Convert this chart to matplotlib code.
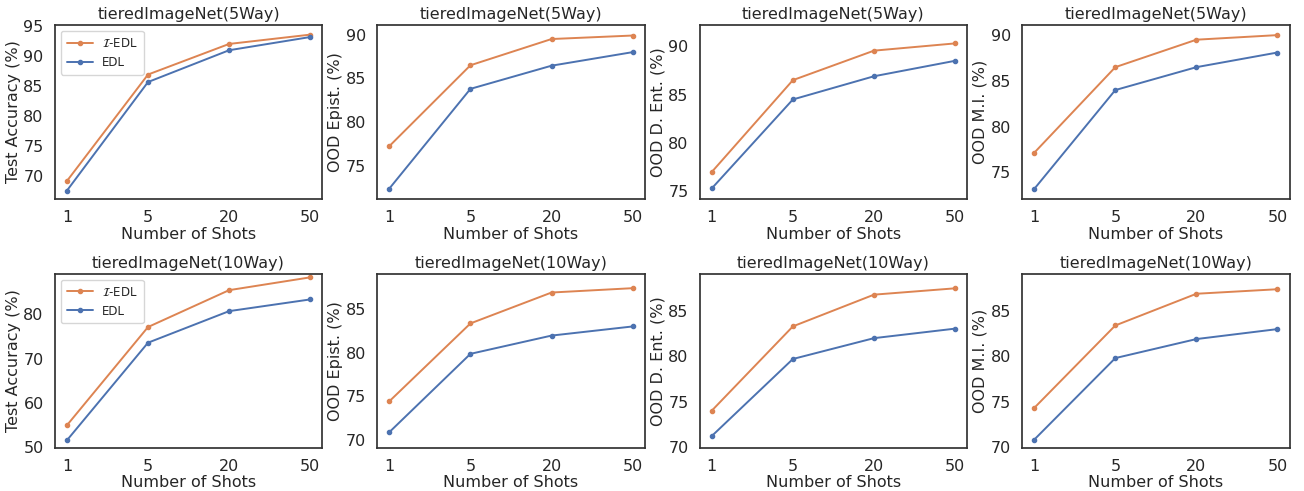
import numpy as np
import matplotlib
matplotlib.use("Agg")
import matplotlib.pyplot as plt
import seaborn as sns

sns.set_theme(style="white")
plt.rcParams['font.family'] = ['DejaVu Sans']

#shots on the x axis (drawn as evenly spaced categories)
shots = ["1", "5", "20", "50"]
metrics = ["Test Accuracy (%)", "OOD Epist. (%)", "OOD D. Ent. (%)", "OOD M.I. (%)"]
titles = ["tieredImageNet(5Way)", "tieredImageNet(10Way)"]

#5-way results, one list per metric
iedl_5way = [
    [69.2, 86.95, 92.05, 93.6],
    [77.25, 86.5, 89.5, 89.9],
    [77.0, 86.5, 89.55, 90.3],
    [77.15, 86.5, 89.5, 90.0],
]
edl_5way = [
    [67.6, 85.7, 91.0, 93.2],
    [72.4, 83.8, 86.45, 88.0],
    [75.3, 84.5, 86.9, 88.5],
    [73.2, 84.0, 86.5, 88.1],
]

#10-way results
iedl_10way = [
    [54.9, 77.15, 85.5, 88.4],
    [74.45, 83.4, 86.95, 87.45],
    [74.0, 83.3, 86.8, 87.5],
    [74.3, 83.4, 86.9, 87.4],
]
edl_10way = [
    [51.5, 73.6, 80.75, 83.4],
    [70.9, 79.9, 82.0, 83.05],
    [71.2, 79.7, 82.0, 83.05],
    [70.8, 79.8, 81.9, 83.0],
]

#axis ranges / tick steps
ylims = [
    [(66.2, 95.2), (71.2, 91.1), (74.2, 92.2), (72.1, 91.1)],
    [(49.8, 89.2), (69.1, 89.1), (69.9, 89.1), (69.9, 89.1)],
]
ysteps = [[5, 5, 5, 5], [10, 5, 5, 5]]

pal = sns.color_palette("deep")
c_iedl = pal[1]
c_edl = pal[0]

fig, axes = plt.subplots(2, 4, figsize=(13.04, 4.91), dpi=100)
fig.subplots_adjust(left=0.042, right=0.989, top=0.949, bottom=0.088,
                    wspace=0.205, hspace=0.43)

x = np.arange(len(shots))
rows = [(iedl_5way, edl_5way), (iedl_10way, edl_10way)]

for r, (iedl, edl) in enumerate(rows):
    for c in range(4):
        ax = axes[r, c]
        ax.plot(x, iedl[c], color=c_iedl, marker='o', markersize=3,
                linewidth=1.4, label=r'$\mathcal{I}$-EDL')
        ax.plot(x, edl[c], color=c_edl, marker='o', markersize=3,
                linewidth=1.4, label='EDL')
        ax.set_xticks(x)
        ax.set_xticklabels(shots)
        lo, hi = ylims[r][c]
        ax.set_ylim(lo, hi)
        ax.yaxis.set_major_locator(plt.MultipleLocator(ysteps[r][c]))
        ax.set_xlabel("Number of Shots", fontsize=11.5, labelpad=1)
        ax.set_ylabel(metrics[c], fontsize=11.5, labelpad=2)
        ax.set_title(titles[r], fontsize=11.5, pad=4)
        ax.tick_params(axis='both', labelsize=11.5, pad=2)
        for s in ax.spines.values():
            s.set_color('.2')
        if c == 0:
            ax.legend(loc='upper left', fontsize=8.5, frameon=True,
                      borderpad=0.5, handlelength=2.2)

plt.savefig("out.png", dpi=100)
